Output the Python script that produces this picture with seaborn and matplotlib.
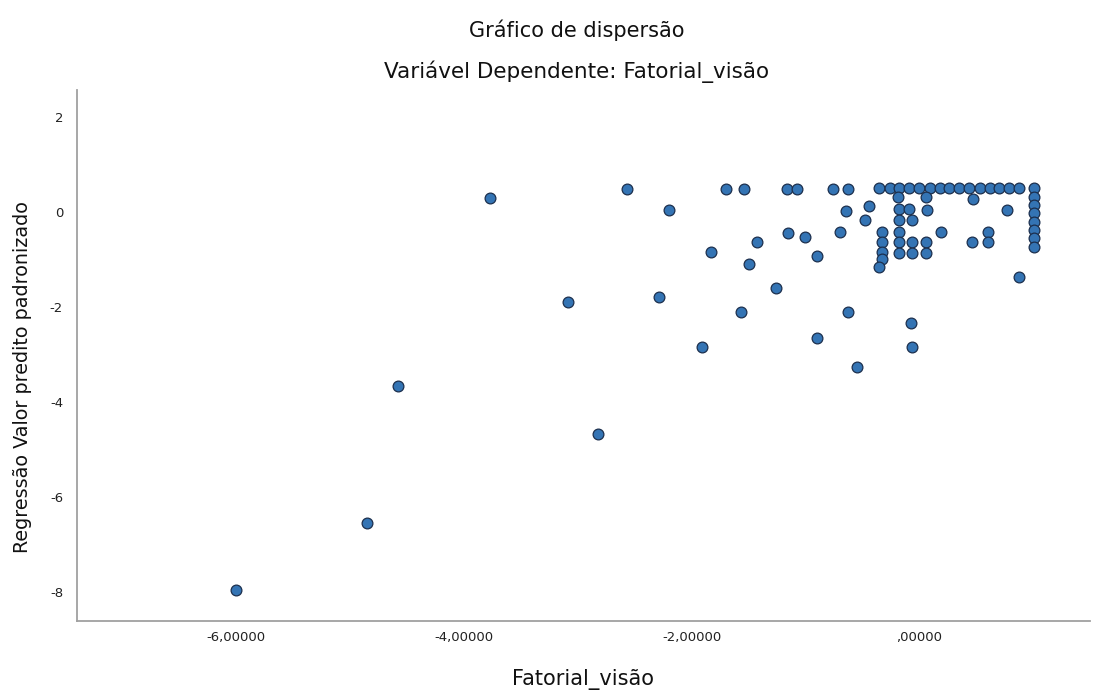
import matplotlib
matplotlib.use("Agg")
import matplotlib.pyplot as plt
import seaborn as sns
import pandas as pd

# Observed factor score (x) and standardized predicted value (y)
fatorial_visao = [
    -6.00, -4.85, -4.58, -3.77, -3.09, -2.82, -2.57, -2.20, -2.29, -1.91,
    -1.83, -1.57, -1.70, -1.54, -1.50, -1.43, -1.26, -1.16, -1.07, -1.15,
    -1.00, -0.90, -0.90, -0.63, -0.55, -0.07, -0.06, 0.88,
    -0.76, -0.63, -0.64, -0.70, -0.44, -0.48,
    -0.35, -0.26, -0.18, -0.09, 0.00, 0.09, 0.18, 0.26, 0.35, 0.44,
    0.53, 0.62, 0.70, 0.79, 0.88, 1.01,
    -0.19, 0.06, -0.18, -0.09, 0.07, -0.18, -0.06,
    -0.33, -0.18, 0.19, -0.33, -0.18, -0.06, 0.06,
    -0.33, -0.18, -0.06, 0.06, -0.33, -0.35,
    0.47, 0.77, 0.60, 0.60, 0.46,
    1.01, 1.01, 1.01, 1.01, 1.01, 1.01, 1.01,
]
valor_predito = [
    -7.95, -6.55, -3.66, 0.29, -1.89, -4.66, 0.48, 0.04, -1.79, -2.84,
    -0.84, -2.10, 0.48, 0.48, -1.09, -0.63, -1.60, 0.48, 0.48, -0.44,
    -0.53, -0.92, -2.65, -2.10, -3.26, -2.33, -2.84, -1.37,
    0.48, 0.48, 0.02, -0.42, 0.13, -0.17,
    0.50, 0.50, 0.50, 0.50, 0.50, 0.50, 0.50, 0.50, 0.50, 0.50,
    0.50, 0.50, 0.50, 0.50, 0.50, 0.50,
    0.32, 0.32, 0.06, 0.06, 0.04, -0.17, -0.17,
    -0.42, -0.42, -0.42, -0.63, -0.63, -0.63, -0.63,
    -0.84, -0.86, -0.86, -0.86, -0.99, -1.16,
    0.27, 0.04, -0.42, -0.63, -0.63,
    0.32, 0.15, -0.02, -0.21, -0.38, -0.55, -0.74,
]

x_ticks = [-6, -4, -2, 0]
x_tick_labels = ["-6,00000", "-4,00000", "-2,00000", ",00000"]
y_ticks = [2, 0, -2, -4, -6, -8]
y_tick_labels = ["2", "0", "-2", "-4", "-6", "-8"]

df = pd.DataFrame({"x": fatorial_visao, "y": valor_predito})

sns.set_theme(style="white")
plt.rcParams["font.family"] = ["DejaVu Sans"]

fig = plt.figure(figsize=(11.15, 6.95), dpi=100)
ax = fig.add_axes([77 / 1115, 1 - 621 / 695, (1090 - 77) / 1115, (621 - 90) / 695])

sns.scatterplot(
    data=df, x="x", y="y", ax=ax,
    s=60, color="#3474b4", edgecolor="#1c2f4d", linewidth=0.9, zorder=3,
)

ax.set_xlim(-7.4, 1.5)
ax.set_ylim(-8.6, 2.56)
ax.set_xticks(x_ticks)
ax.set_xticklabels(x_tick_labels, fontsize=9.5, color="#222222")
ax.set_yticks(y_ticks)
ax.set_yticklabels(y_tick_labels, fontsize=9.5, color="#222222")

for side in ("top", "right"):
    ax.spines[side].set_visible(False)
for side in ("left", "bottom"):
    ax.spines[side].set_color("#a0a0a0")
    ax.spines[side].set_linewidth(1.3)
ax.tick_params(axis="x", length=3, color="#a0a0a0", pad=4)
ax.tick_params(axis="y", length=3, color="#a0a0a0", pad=7)

ax.set_xlabel("Fatorial_visão", fontsize=15, labelpad=18, color="#111111")
ax.set_ylabel("Regressão Valor predito padronizado", fontsize=13.8, color="#111111")
ax.yaxis.set_label_coords(-0.044, 0.46)

fig.text(577 / 1115, 1 - 30 / 695, "Gráfico de dispersão", ha="center", va="center",
         fontsize=15, color="#111111")
fig.text(577 / 1115, 1 - 72 / 695, "Variável Dependente: Fatorial_visão", ha="center",
         va="center", fontsize=15.5, color="#111111")

fig.savefig("out.png", dpi=100)
